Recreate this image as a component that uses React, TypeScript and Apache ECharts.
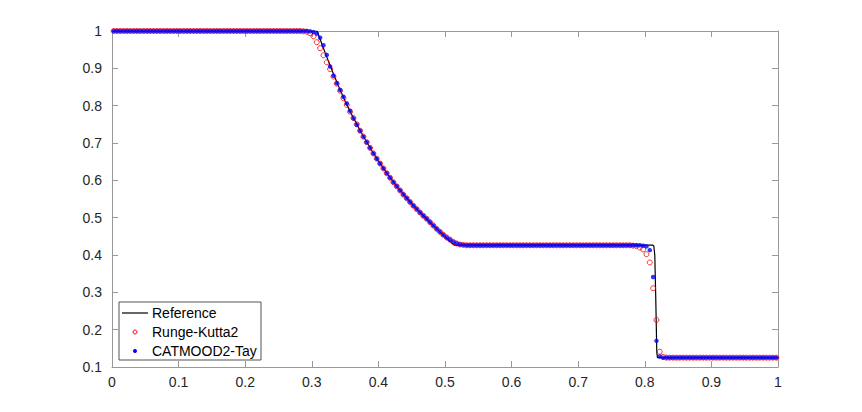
import React, { useEffect, useRef } from "react";
import * as echarts from "echarts";

// 200-cell uniform mesh: cell centres of the numerical solutions
const N = 200;
const cellX: number[] = Array.from({ length: N }, (_, i) => (i + 0.5) / N);

// Runge-Kutta2 (red open circles), one value per cell
const rk2: number[] = [
  1, 1, 1, 1, 1, 1, 1, 1, 1, 1,
  1, 1, 1, 1, 1, 1, 1, 1, 1, 1,
  1, 1, 1, 1, 1, 1, 1, 1, 1, 1,
  1, 1, 1, 1, 1, 1, 1, 1, 1, 1,
  1, 1, 1, 1, 1, 1, 1, 1, 1, 1,
  1, 1, 1, 1, 1, 1, 1, 0.999, 0.998, 0.994,
  0.986, 0.970, 0.954, 0.935, 0.916, 0.898, 0.878, 0.859, 0.840, 0.820,
  0.802, 0.784, 0.767, 0.750, 0.733, 0.717, 0.702, 0.687, 0.672, 0.658,
  0.645, 0.632, 0.619, 0.607, 0.595, 0.584, 0.573, 0.562, 0.552, 0.542,
  0.532, 0.523, 0.514, 0.505, 0.497, 0.488, 0.479, 0.470, 0.462, 0.454,
  0.447, 0.441, 0.435, 0.431, 0.428, 0.427, 0.426, 0.426, 0.426, 0.426,
  0.426, 0.426, 0.426, 0.426, 0.426, 0.426, 0.426, 0.426, 0.426, 0.426,
  0.426, 0.426, 0.426, 0.426, 0.426, 0.426, 0.426, 0.426, 0.426, 0.426,
  0.426, 0.426, 0.426, 0.426, 0.426, 0.426, 0.426, 0.426, 0.426, 0.426,
  0.426, 0.426, 0.426, 0.426, 0.426, 0.426, 0.426, 0.426, 0.426, 0.426,
  0.426, 0.426, 0.426, 0.426, 0.426, 0.426, 0.425, 0.424, 0.420, 0.415,
  0.402, 0.380, 0.311, 0.226, 0.141, 0.127, 0.125, 0.125, 0.125, 0.125,
  0.125, 0.125, 0.125, 0.125, 0.125, 0.125, 0.125, 0.125, 0.125, 0.125,
  0.125, 0.125, 0.125, 0.125, 0.125, 0.125, 0.125, 0.125, 0.125, 0.125,
  0.125, 0.125, 0.125, 0.125, 0.125, 0.125, 0.125, 0.125, 0.125, 0.125,
];

// CATMOOD2-Tay (blue dots), one value per cell
const catmood: number[] = [
  1, 1, 1, 1, 1, 1, 1, 1, 1, 1,
  1, 1, 1, 1, 1, 1, 1, 1, 1, 1,
  1, 1, 1, 1, 1, 1, 1, 1, 1, 1,
  1, 1, 1, 1, 1, 1, 1, 1, 1, 1,
  1, 1, 1, 1, 1, 1, 1, 1, 1, 1,
  1, 1, 1, 1, 1, 1, 1, 1, 1, 0.999,
  0.997, 0.993, 0.982, 0.962, 0.936, 0.905, 0.880, 0.860, 0.842, 0.824,
  0.806, 0.786, 0.766, 0.749, 0.733, 0.717, 0.702, 0.687, 0.672, 0.658,
  0.645, 0.632, 0.619, 0.607, 0.595, 0.584, 0.573, 0.562, 0.552, 0.542,
  0.532, 0.523, 0.514, 0.505, 0.497, 0.488, 0.479, 0.470, 0.462, 0.454,
  0.447, 0.441, 0.435, 0.431, 0.428, 0.427, 0.426, 0.426, 0.426, 0.426,
  0.426, 0.426, 0.426, 0.426, 0.426, 0.426, 0.426, 0.426, 0.426, 0.426,
  0.426, 0.426, 0.426, 0.426, 0.426, 0.426, 0.426, 0.426, 0.426, 0.426,
  0.426, 0.426, 0.426, 0.426, 0.426, 0.426, 0.426, 0.426, 0.426, 0.426,
  0.426, 0.426, 0.426, 0.426, 0.426, 0.426, 0.426, 0.426, 0.426, 0.426,
  0.426, 0.426, 0.426, 0.426, 0.426, 0.426, 0.426, 0.426, 0.426, 0.425,
  0.423, 0.413, 0.341, 0.170, 0.128, 0.125, 0.125, 0.125, 0.125, 0.125,
  0.125, 0.125, 0.125, 0.125, 0.125, 0.125, 0.125, 0.125, 0.125, 0.125,
  0.125, 0.125, 0.125, 0.125, 0.125, 0.125, 0.125, 0.125, 0.125, 0.125,
  0.125, 0.125, 0.125, 0.125, 0.125, 0.125, 0.125, 0.125, 0.125, 0.125,
];

// Reference solution (black line)
const refX: number[] = [
  0, 0.308, 0.315, 0.32, 0.33, 0.34, 0.35, 0.36, 0.37, 0.38, 0.39, 0.40,
  0.41, 0.42, 0.43, 0.44, 0.45, 0.46, 0.47, 0.48, 0.49, 0.50, 0.51, 0.514,
  0.812, 0.8135, 0.815, 0.8165, 0.818, 0.819, 1,
];
const refY: number[] = [
  1, 1, 0.966, 0.942, 0.896, 0.853, 0.812, 0.776, 0.742, 0.710, 0.680, 0.652,
  0.626, 0.602, 0.579, 0.558, 0.538, 0.519, 0.501, 0.483, 0.466, 0.449, 0.4325, 0.4263,
  0.4263, 0.424, 0.40, 0.28, 0.14, 0.125, 0.125,
];

const legendNames = ["Reference", "Runge-Kutta2", "CATMOOD2-Tay"];

const AXIS_COLOR = "#999999";
const TEXT_COLOR = "#262626";
const FONT = '"Liberation Sans", Arial, Helvetica, sans-serif';

const fmt = (v: number) => String(+v.toFixed(1));

function measure(text: string, font: string): number {
  const c = document.createElement("canvas");
  const ctx = c.getContext("2d");
  if (!ctx) return text.length * 8;
  ctx.font = font;
  return ctx.measureText(text).width;
}

export default function App() {
  const ref = useRef<HTMLDivElement>(null);

  useEffect(() => {
    if (!ref.current) return;
    const chart = echarts.init(ref.current, undefined, { renderer: "svg" });

    const axisCommon = {
      type: "value" as const,
      axisLine: { show: true, onZero: false, lineStyle: { color: AXIS_COLOR, width: 1 } },
      axisTick: { show: true, inside: true, length: 6, lineStyle: { color: AXIS_COLOR, width: 1 } },
      splitLine: { show: false },
    };
    const labelCommon = {
      color: TEXT_COLOR,
      fontSize: 14,
      fontFamily: FONT,
      formatter: fmt,
    };

    const textLeft = 152;
    const maxW = Math.max(...legendNames.map((n) => measure(n, `14px ${FONT}`)));
    const boxLeft = 119;
    const boxW = Math.round(textLeft + maxW + 4 - boxLeft);

    chart.setOption({
      animation: false,
      backgroundColor: "#ffffff",
      grid: { left: 112, right: 84, top: 31, bottom: 45, containLabel: false },
      xAxis: [
        { ...axisCommon, min: 0, max: 1, interval: 0.1, position: "bottom",
          axisLabel: { ...labelCommon, margin: 8 } },
        { ...axisCommon, min: 0, max: 1, interval: 0.1, position: "top",
          axisLabel: { show: false } },
      ],
      yAxis: [
        { ...axisCommon, min: 0.1, max: 1, interval: 0.1, position: "left",
          axisLabel: { ...labelCommon, margin: 10 } },
        { ...axisCommon, min: 0.1, max: 1, interval: 0.1, position: "right",
          axisLabel: { show: false } },
      ],
      series: [
        {
          name: legendNames[0],
          type: "line",
          xAxisIndex: 0,
          yAxisIndex: 0,
          data: refX.map((x, i) => [x, refY[i]]),
          symbol: "none",
          lineStyle: { color: "#000000", width: 1.2 },
          z: 2,
        },
        {
          name: legendNames[1],
          type: "scatter",
          xAxisIndex: 0,
          yAxisIndex: 0,
          data: cellX.map((x, i) => [x, rk2[i]]),
          symbol: "circle",
          symbolSize: 5,
          itemStyle: { color: "rgba(0,0,0,0)", borderColor: "#ff0000", borderWidth: 1 },
          z: 3,
        },
        {
          name: legendNames[2],
          type: "scatter",
          xAxisIndex: 0,
          yAxisIndex: 0,
          data: cellX.map((x, i) => [x, catmood[i]]),
          symbol: "circle",
          symbolSize: 4.5,
          itemStyle: { color: "#0000ff" },
          z: 4,
        },
      ],
      graphic: [
        {
          type: "group",
          z: 100,
          children: [
            { type: "rect", shape: { x: boxLeft, y: 302, width: boxW, height: 58 },
              style: { fill: "#ffffff", stroke: TEXT_COLOR, lineWidth: 0.8 } },
            { type: "line", shape: { x1: 122, y1: 313, x2: 148, y2: 313 },
              style: { stroke: "#000000", lineWidth: 1.2 } },
            { type: "circle", shape: { cx: 135, cy: 332, r: 2 },
              style: { fill: "none", stroke: "#ff0000", lineWidth: 1 } },
            { type: "circle", shape: { cx: 135, cy: 351, r: 2 },
              style: { fill: "#0000ff" } },
            { type: "text", x: textLeft, y: 313,
              style: { text: legendNames[0], fill: "#000000", fontSize: 14, fontFamily: FONT, verticalAlign: "middle" } },
            { type: "text", x: textLeft, y: 332,
              style: { text: legendNames[1], fill: "#000000", fontSize: 14, fontFamily: FONT, verticalAlign: "middle" } },
            { type: "text", x: textLeft, y: 351,
              style: { text: legendNames[2], fill: "#000000", fontSize: 14, fontFamily: FONT, verticalAlign: "middle" } },
          ],
        },
      ],
    });

    return () => chart.dispose();
  }, []);

  return (
    <div
      ref={ref}
      style={{ position: "fixed", left: 0, top: 0, width: 862, height: 412, background: "#fff" }}
    />
  );
}
